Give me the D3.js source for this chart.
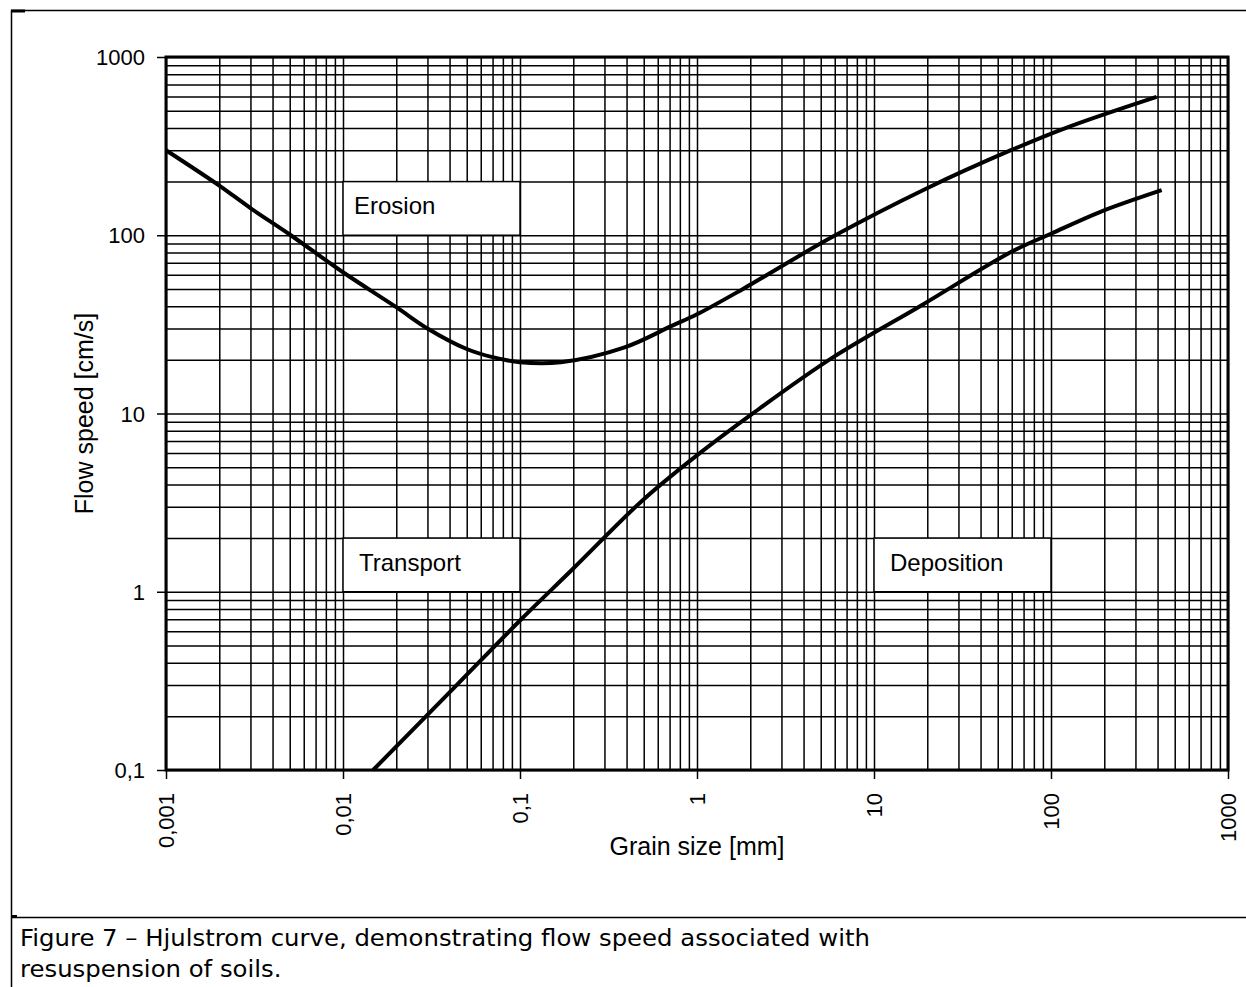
<!DOCTYPE html>
<html>
<head>
<meta charset="utf-8">
<script src="https://cdn.jsdelivr.net/npm/d3@7"></script>
<style>
  html, body { margin: 0; padding: 0; background: #fff; }
  svg { display: block; }
  text { font-family: "Liberation Sans", Arial, sans-serif; fill: #000; }
</style>
</head>
<body>
<svg id="chart" width="1246" height="987"></svg>
<script>
// ---- data ----
const xTickValues = [0.001, 0.01, 0.1, 1, 10, 100, 1000];
const xTickLabels = ["0,001", "0,01", "0,1", "1", "10", "100", "1000"];
const yTickValues = [0.1, 1, 10, 100, 1000];
const yTickLabels = ["0,1", "1", "10", "100", "1000"];

// Erosion curve (upper): grain size [mm], flow speed [cm/s]
const erosionSize  = [0.001, 0.002, 0.003, 0.005, 0.01, 0.02, 0.03, 0.05, 0.07, 0.1, 0.17, 0.39, 0.72, 1.0, 1.82, 5.83, 19.8, 59.4, 126, 395];
const erosionSpeed = [300,   190,   142,   101,   62,   39.5, 30,   23,   20.7, 19.4, 19.4, 23.5, 31,  36,  50,   98,   183,  300,  406, 598];

// Deposition curve (lower)
const depositionSize  = [0.0148, 0.0425, 0.1,  0.2,  0.49, 0.97, 2.05, 5.8,  18.6, 59.4, 100, 189, 422];
const depositionSpeed = [0.1,    0.29,   0.69, 1.35, 3.24, 5.69, 9.95, 20.5, 40.5, 80.5, 102, 135, 179];

// Region labels
const regionNames = ["Erosion", "Transport", "Deposition"];
const regionXFrom = [0.01, 0.01, 10];
const regionXTo   = [0.1, 0.1, 100];
const regionYFrom = [100, 1, 1];
const regionYTo   = [200, 2, 2];

const xTitle = "Grain size [mm]";
const yTitle = "Flow speed [cm/s]";
const captionLines = ["Figure 7 \u2013 Hjulstrom curve, demonstrating flow speed associated with", "resuspension of soils."];

// ---- layout ----
const L = 166, R = 1228, T = 57, B = 770;
const svg = d3.select("#chart");

const x = d3.scaleLog().domain([0.001, 1000]).range([L, R]);
const y = d3.scaleLog().domain([0.1, 1000]).range([B, T]);

// outer document frame
const frame = svg.append("g").attr("stroke", "#000").attr("fill", "none");
frame.append("line").attr("x1", 11).attr("x2", 1246).attr("y1", 10.5).attr("y2", 10.5).attr("stroke-width", 1.5);
frame.append("line").attr("x1", 11).attr("x2", 25).attr("y1", 11).attr("y2", 11).attr("stroke-width", 3);
frame.append("line").attr("x1", 11.5).attr("x2", 11.5).attr("y1", 10).attr("y2", 987).attr("stroke-width", 1.5);
frame.append("line").attr("x1", 11).attr("x2", 1246).attr("y1", 917.5).attr("y2", 917.5).attr("stroke-width", 1.5);
frame.append("line").attr("x1", 11).attr("x2", 17).attr("y1", 916).attr("y2", 916).attr("stroke-width", 2);

// gridlines via axes (1..9 per decade)
const allX = x.ticks(10);
const allY = y.ticks(10);
const gx = svg.append("g").attr("transform", `translate(0,${B})`)
  .call(d3.axisBottom(x).tickValues(allX).tickSize(-(B - T)).tickFormat(""));
gx.select(".domain").remove();
gx.selectAll("line").attr("stroke", "#000").attr("stroke-width", 1.5);

const gy = svg.append("g").attr("transform", `translate(${L},0)`)
  .call(d3.axisLeft(y).tickValues(allY).tickSize(-(R - L)).tickFormat(""));
gy.select(".domain").remove();
gy.selectAll("line").attr("stroke", "#000").attr("stroke-width", 1.5);

// label boxes
const textPad = [11, 16, 16];
regionNames.forEach((name, i) => {
  const x0 = x(regionXFrom[i]), x1 = x(regionXTo[i]);
  const y0 = y(regionYTo[i]), y1 = y(regionYFrom[i]);
  svg.append("rect").attr("x", x0).attr("y", y0).attr("width", x1 - x0).attr("height", y1 - y0)
    .attr("fill", "#fff").attr("stroke", "#000").attr("stroke-width", 1.5);
  svg.append("text").attr("x", x0 + textPad[i]).attr("y", y1 - 21)
    .style("font-size", "24px").text(name);
});

// frame of plot
svg.append("rect").attr("x", L).attr("y", T).attr("width", R - L).attr("height", B - T)
  .attr("fill", "none").attr("stroke", "#000").attr("stroke-width", 3);

// axes with labels
const ax = svg.append("g").attr("transform", `translate(0,${B})`)
  .call(d3.axisBottom(x).tickValues(xTickValues).tickSize(9).tickFormat((d, i) => xTickLabels[i]));
ax.select(".domain").remove();
ax.selectAll("line").attr("stroke", "#000").attr("stroke-width", 1.5);
ax.selectAll("text")
  .attr("transform", "rotate(-90)")
  .attr("x", -23).attr("y", 7).attr("dy", 0)
  .style("text-anchor", "end").style("font-size", "22px")
  .style("font-family", '"Liberation Sans", Arial, sans-serif').attr("fill", "#000");

const ay = svg.append("g").attr("transform", `translate(${L},0)`)
  .call(d3.axisLeft(y).tickValues(yTickValues).tickSize(9).tickPadding(12).tickFormat((d, i) => yTickLabels[i]));
ay.select(".domain").remove();
ay.selectAll("line").attr("stroke", "#000").attr("stroke-width", 1.5);
ay.selectAll("text").style("font-size", "22px")
  .style("font-family", '"Liberation Sans", Arial, sans-serif').attr("fill", "#000").attr("dy", "0.35em");

// axis titles
svg.append("text").attr("x", (x(0.1) + x(10)) / 2).attr("y", 855)
  .attr("text-anchor", "middle").style("font-size", "25px").text(xTitle);
svg.append("text").attr("transform", `translate(93,${(y(1) + y(100)) / 2}) rotate(-90)`)
  .attr("text-anchor", "middle").style("font-size", "25px").text(yTitle);

// curves
const line = d3.line().x(d => x(d[0])).y(d => y(d[1])).curve(d3.curveCatmullRom.alpha(0.5));
const erosion = erosionSize.map((s, i) => [s, erosionSpeed[i]]);
const deposition = depositionSize.map((s, i) => [s, depositionSpeed[i]]);
svg.append("path").datum(erosion).attr("d", line)
  .attr("fill", "none").attr("stroke", "#000").attr("stroke-width", 4).attr("stroke-linejoin", "round");
svg.append("path").datum(deposition).attr("d", line)
  .attr("fill", "none").attr("stroke", "#000").attr("stroke-width", 4).attr("stroke-linejoin", "round");

// caption
const cap = svg.append("g");
const c1 = cap.append("text").attr("x", 20).attr("y", 946).style("font-size", "23px")
  .style("font-family", '"DejaVu Sans", Verdana, sans-serif').text(captionLines[0]);
const c2 = cap.append("text").attr("x", 20).attr("y", 977).style("font-size", "23px")
  .style("font-family", '"DejaVu Sans", Verdana, sans-serif').text(captionLines[1]);
const n1 = c1.node().getComputedTextLength();
const n2 = c2.node().getComputedTextLength();
const f = 850 / n1;
c1.attr("textLength", 850).attr("lengthAdjust", "spacingAndGlyphs");
c2.attr("textLength", n2 * f).attr("lengthAdjust", "spacingAndGlyphs");
</script>
</body>
</html>
